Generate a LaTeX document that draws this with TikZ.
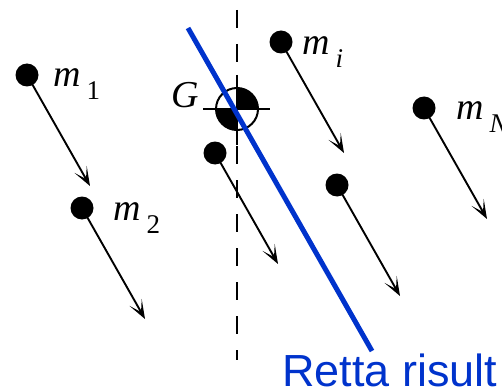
\documentclass[tikz,border=0pt]{standalone}
\usepackage{fontspec}
\setmainfont{Liberation Serif}
\newfontfamily\rettafont{Liberation Sans}
\usetikzlibrary{arrows.meta}
\definecolor{rettablue}{RGB}{0,51,204}

% mass label: italic m with a lowered index
\newcommand{\masslabel}[1]{{\fontsize{38}{40}\selectfont\itshape m}\hspace{6pt}\raisebox{-13pt}{\fontsize{27}{29}\selectfont #1}}

\begin{document}
\begin{tikzpicture}[x=1pt, y=-1pt]
    % Styles
    \tikzstyle{massdot} = [circle, fill=black, inner sep=0pt, minimum size=23pt]
    \tikzstyle{masstext} = [anchor=base west, inner sep=0pt]
    \tikzstyle{forcearrow} = [line width=1.9pt, -{Stealth[length=19pt, width=14pt, inset=11pt]}]
    \tikzstyle{gline} = [line width=2pt]
    \useasboundingbox (0,0) rectangle (502,390);

    % === Masses ===
    \node [massdot] (m1dot) at (27,75) {};
    \node [massdot] (m2dot) at (82,208) {};
    \node [massdot] (gdot) at (215,153) {};
    \node [massdot] (midot) at (281,42) {};
    \node [massdot] (jdot) at (337,185) {};
    \node [massdot] (mNdot) at (424,108) {};

    % === Labels ===
    \node [masstext] (m1lab) at (53,87) {\masslabel{1}};
    \node [masstext] (m2lab) at (113,220) {\masslabel{2}};
    \node [masstext] (milab) at (302,55) {\masslabel{\itshape i}};
    \node [masstext] (mNlab) at (456,120) {\masslabel{\itshape N}};

    % === Arrows: equal and parallel weights ===
    \foreach \m in {m1dot, m2dot, gdot, midot, jdot, mNdot} {
        \path (\m.center) ++(63,111) coordinate (\m tip);
        \draw [forcearrow] (\m.center) -- (\m tip);
    }

    % === Centre of mass ===
    \coordinate (G) at (237,109);
    \draw [gline, dash pattern=on 18pt off 16pt] (237,10) coordinate (axtop) -- (237,360) coordinate (axbot);
    \fill (G) -- ++(21,0) arc[start angle=0, end angle=-90, radius=21] -- cycle;
    \fill (G) -- ++(-21,0) arc[start angle=180, end angle=90, radius=21] -- cycle;
    \draw [gline] (G) circle[radius=21];
    \draw [gline] ([xshift=-34pt]G) -- ([xshift=33pt]G);
    \draw [gline] ([yshift=34pt]G) -- ([yshift=-36pt]G);
    \node [masstext] (Glab) at (171,108) {\fontsize{38}{40}\selectfont\itshape G};

    % === Resultant line ===
    \coordinate (rtop) at (188,28);
    \coordinate (rbot) at (372,351);
    \draw [rettablue, line width=5pt] (rtop) -- (rbot);
    \node [masstext, text=rettablue] (rlab) at (282,386) {\rettafont\fontsize{45}{50}\selectfont Retta risult};
\end{tikzpicture}
\end{document}
